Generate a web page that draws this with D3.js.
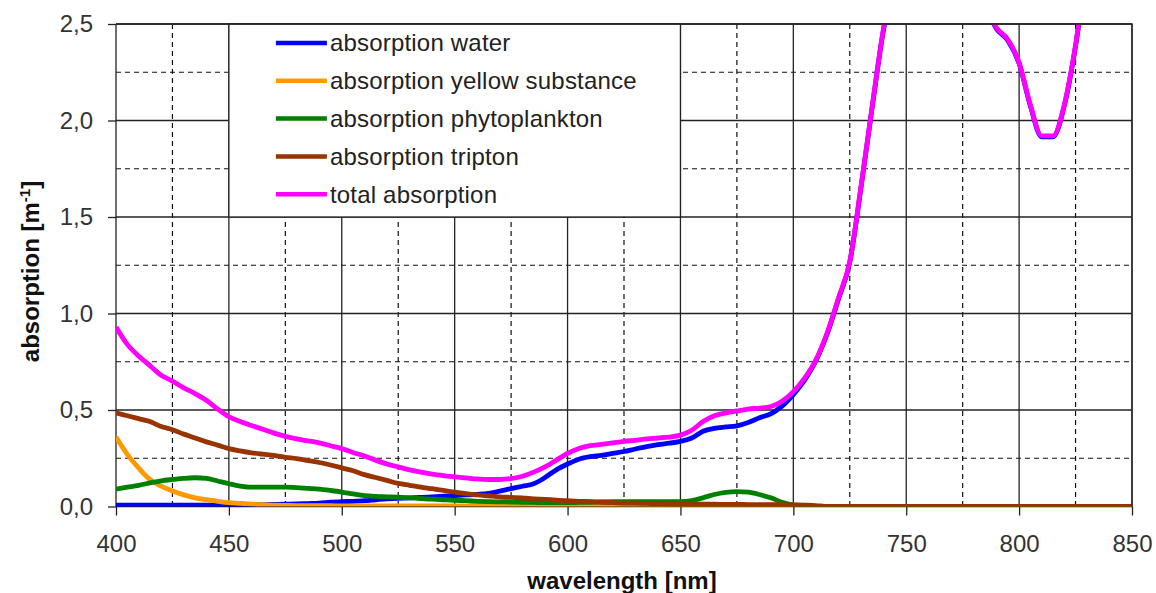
<!DOCTYPE html>
<html>
<head>
<meta charset="utf-8">
<script src="https://cdn.jsdelivr.net/npm/d3@7"></script>
<style>
  body { margin: 0; background: #fff; }
  svg { display: block; font-family: Arial, "Liberation Sans", sans-serif; }
</style>
</head>
<body>
<svg id="chart" width="1156" height="593"></svg>
<script>
// wavelength grid, 5 nm steps from 400 to 850
const wavelength = d3.range(400, 851, 5);

// absorption values, one per wavelength
const waterAbs = [
  0.007, 0.007, 0.007, 0.007, 0.007, 0.007, 0.007, 0.007, 0.007, 0.008,
  0.009, 0.009, 0.010, 0.010, 0.011, 0.012, 0.013, 0.015, 0.017, 0.022,
  0.025, 0.027, 0.030, 0.035, 0.040, 0.042, 0.045, 0.047, 0.050, 0.053,
  0.057, 0.060, 0.063, 0.068, 0.080, 0.093, 0.105, 0.118, 0.150, 0.190,
  0.220, 0.245, 0.258, 0.265, 0.275, 0.285, 0.298, 0.310, 0.320, 0.328,
  0.337, 0.355, 0.390, 0.405, 0.412, 0.418, 0.435, 0.460, 0.480, 0.520,
  0.580, 0.655, 0.755, 0.895, 1.075, 1.265, 1.655, 2.075, 2.475, 2.745,
  2.895, 2.965, 2.995, 2.975, 2.925, 2.845, 2.745, 2.595, 2.475, 2.415,
  2.295, 2.075, 1.915, 1.915, 2.075, 2.385, 2.795, 3.095, 3.395, 3.695,
  3.995
];
const yellowAbs = [
  0.360, 0.270, 0.200, 0.140, 0.105, 0.080, 0.060, 0.045, 0.035, 0.027,
  0.020, 0.016, 0.012, 0.009, 0.007, 0.006, 0.005, 0.005, 0.004, 0.004,
  0.003, 0.003, 0.003, 0.003, 0.003, 0.003, 0.003, 0.003, 0.003, 0.003,
  0.003, 0.003, 0.003, 0.003, 0.003, 0.003, 0.003, 0.003, 0.003, 0.003,
  0.003, 0.003, 0.003, 0.003, 0.003, 0.002, 0.002, 0.001, 0.001, 0.001,
  0, 0, 0, 0, 0, 0, 0, 0, 0, 0,
  0, 0, 0, 0, 0, 0, 0, 0, 0, 0,
  0, 0, 0, 0, 0, 0, 0, 0, 0, 0,
  0, 0, 0, 0, 0, 0, 0, 0, 0, 0,
  0
];
const phytoAbs = [
  0.090, 0.100, 0.110, 0.122, 0.133, 0.140, 0.146, 0.149, 0.146, 0.132,
  0.118, 0.106, 0.100, 0.100, 0.100, 0.100, 0.098, 0.094, 0.090, 0.083,
  0.075, 0.065, 0.056, 0.052, 0.050, 0.048, 0.045, 0.041, 0.038, 0.035,
  0.032, 0.030, 0.027, 0.025, 0.024, 0.023, 0.022, 0.021, 0.020, 0.020,
  0.020, 0.021, 0.022, 0.024, 0.025, 0.025, 0.025, 0.025, 0.025, 0.025,
  0.025, 0.030, 0.045, 0.062, 0.073, 0.077, 0.074, 0.062, 0.045, 0.022,
  0.008, 0.002, 0, 0, 0, 0, 0, 0, 0, 0,
  0, 0, 0, 0, 0, 0, 0, 0, 0, 0,
  0, 0, 0, 0, 0, 0, 0, 0, 0, 0,
  0
];
const triptonAbs = [
  0.485, 0.470, 0.455, 0.440, 0.415, 0.398, 0.375, 0.355, 0.335, 0.318,
  0.300, 0.288, 0.278, 0.271, 0.265, 0.255, 0.248, 0.238, 0.228, 0.215,
  0.200, 0.185, 0.165, 0.150, 0.135, 0.120, 0.110, 0.100, 0.092, 0.083,
  0.075, 0.067, 0.060, 0.055, 0.050, 0.047, 0.044, 0.040, 0.037, 0.033,
  0.030, 0.027, 0.025, 0.022, 0.020, 0.018, 0.017, 0.016, 0.015, 0.014,
  0.013, 0.013, 0.012, 0.012, 0.011, 0.011, 0.010, 0.010, 0.009, 0.009,
  0.008, 0.007, 0.005, 0, 0, 0, 0, 0, 0, 0,
  0, 0, 0, 0, 0, 0, 0, 0, 0, 0,
  0, 0, 0, 0, 0, 0, 0, 0, 0, 0,
  0
];
const totalAbs = [
  0.930, 0.840, 0.780, 0.730, 0.680, 0.650, 0.615, 0.585, 0.550, 0.505,
  0.465, 0.440, 0.420, 0.400, 0.380, 0.363, 0.350, 0.340, 0.330, 0.315,
  0.300, 0.280, 0.262, 0.240, 0.220, 0.205, 0.190, 0.178, 0.168, 0.160,
  0.153, 0.148, 0.143, 0.140, 0.140, 0.145, 0.157, 0.178, 0.205, 0.240,
  0.275, 0.300, 0.315, 0.322, 0.330, 0.338, 0.343, 0.350, 0.355, 0.360,
  0.370, 0.395, 0.440, 0.470, 0.485, 0.495, 0.505, 0.510, 0.518, 0.545,
  0.595, 0.665, 0.760, 0.900, 1.080, 1.270, 1.660, 2.080, 2.480, 2.750,
  2.900, 2.970, 3.000, 2.980, 2.930, 2.850, 2.750, 2.600, 2.480, 2.420,
  2.300, 2.080, 1.920, 1.920, 2.080, 2.390, 2.800, 3.100, 3.400, 3.700,
  4.000
];

const seriesNames = [
  "absorption water",
  "absorption yellow substance",
  "absorption phytoplankton",
  "absorption tripton",
  "total absorption"
];
const seriesColors = ["#0000ff", "#ff9900", "#008000", "#993300", "#ff00ff"];
const seriesValues = [waterAbs, yellowAbs, phytoAbs, triptonAbs, totalAbs];

const xTicks = [400, 450, 500, 550, 600, 650, 700, 750, 800, 850];
const xMinor = [425, 475, 525, 575, 625, 675, 725, 775, 825];
const yTicks = [0, 0.5, 1.0, 1.5, 2.0, 2.5];
const yMinor = [0.25, 0.75, 1.25, 1.75, 2.25];

const svg = d3.select('#chart');
const margin = {top: 24, left: 116, right: 24, bottom: 86.5};
const width = 1156 - margin.left - margin.right;
const height = 593 - margin.top - margin.bottom;

const x = d3.scaleLinear().domain([400, 850]).range([0, width]);
const y = d3.scaleLinear().domain([0, 2.5]).range([height, 0]);

const fmt = d3.formatLocale({decimal: ",", thousands: ".", grouping: [3], currency: ["", ""]}).format(".1f");

const g = svg.append('g').attr('transform', `translate(${margin.left},${margin.top})`);

svg.append('clipPath').attr('id', 'plotClip')
  .append('rect').attr('x', 0).attr('y', 0).attr('width', width).attr('height', height);

// dashed minor grid
g.selectAll('.vminor').data(xMinor).enter().append('line')
  .attr('x1', d => x(d)).attr('x2', d => x(d)).attr('y1', 0).attr('y2', height)
  .attr('stroke', '#111').attr('stroke-width', 1.2).attr('stroke-dasharray', '5,4');
g.selectAll('.hminor').data(yMinor).enter().append('line')
  .attr('x1', 0).attr('x2', width).attr('y1', d => y(d)).attr('y2', d => y(d))
  .attr('stroke', '#111').attr('stroke-width', 1.2).attr('stroke-dasharray', '5,4');

// solid major grid
g.selectAll('.vmajor').data(xTicks).enter().append('line')
  .attr('x1', d => x(d)).attr('x2', d => x(d)).attr('y1', 0).attr('y2', height)
  .attr('stroke', '#222').attr('stroke-width', 1.3);
g.selectAll('.hmajor').data(yTicks).enter().append('line')
  .attr('x1', 0).attr('x2', width).attr('y1', d => y(d)).attr('y2', d => y(d))
  .attr('stroke', '#222').attr('stroke-width', 1.3);

// axes (ticks + labels only)
const xAxis = g.append('g').attr('transform', `translate(0,${height})`)
  .call(d3.axisBottom(x).tickValues(xTicks).tickSize(9).tickPadding(19).tickFormat(d3.format('d')));
const yAxis = g.append('g')
  .call(d3.axisLeft(y).tickValues(yTicks).tickSize(8).tickPadding(15).tickFormat(fmt));
[xAxis, yAxis].forEach(a => {
  a.select('.domain').remove();
  a.selectAll('line').attr('stroke', '#222').attr('stroke-width', 1.3);
  a.selectAll('text').attr('fill', '#333').style('font-size', '24px')
    .style('font-family', 'Arial, "Liberation Sans", sans-serif');
});

// legend box sits inside the grid cell 450-650 / 1.5-2.5
const legend = g.append('g');
legend.append('rect')
  .attr('x', x(450)).attr('y', y(2.5))
  .attr('width', x(650) - x(450)).attr('height', y(1.5) - y(2.5))
  .attr('fill', '#fff').attr('stroke', '#222').attr('stroke-width', 1.3);
const item = legend.selectAll('.item').data(seriesNames).enter().append('g')
  .attr('transform', (d, i) => `translate(${x(450) + 47},${19 + i * 37.8})`);
item.append('line')
  .attr('x1', 0).attr('x2', 51).attr('y1', 0).attr('y2', 0)
  .attr('stroke', (d, i) => seriesColors[i]).attr('stroke-width', 4.5);
item.append('text')
  .attr('x', 54).attr('dy', '0.35em')
  .attr('fill', '#222').style('font-size', '24px').style('letter-spacing', '0.2px')
  .text(d => d);

// curves
const line = d3.line()
  .x((d, i) => x(wavelength[i]))
  .y(d => y(d))
  .curve(d3.curveMonotoneX);
const curves = g.append('g').attr('clip-path', 'url(#plotClip)');
curves.selectAll('path').data(seriesValues).enter().append('path')
  .attr('d', d => line(d))
  .attr('fill', 'none')
  .attr('stroke', (d, i) => seriesColors[i])
  .attr('stroke-width', 4.8)
  .attr('stroke-linejoin', 'round');

// frame on the top and right
g.append('path')
  .attr('d', `M0,0H${width}V${height}`)
  .attr('fill', 'none').attr('stroke', '#222').attr('stroke-width', 1.3);

// axis titles
svg.append('text')
  .attr('x', margin.left + width / 2 - 2).attr('y', 589)
  .attr('text-anchor', 'middle').attr('fill', '#111')
  .style('font-size', '24px').style('font-weight', 'bold')
  .text('wavelength [nm]');
const yTitle = svg.append('text')
  .attr('transform', `translate(38.5,${271.5}) rotate(-90)`)
  .attr('text-anchor', 'middle').attr('fill', '#111')
  .style('font-size', '24px').style('font-weight', 'bold');
yTitle.append('tspan').text('absorption [m');
yTitle.append('tspan').attr('dy', -9).style('font-size', '15px').text('-1');
yTitle.append('tspan').attr('dy', 9).text(']');
</script>
</body>
</html>
